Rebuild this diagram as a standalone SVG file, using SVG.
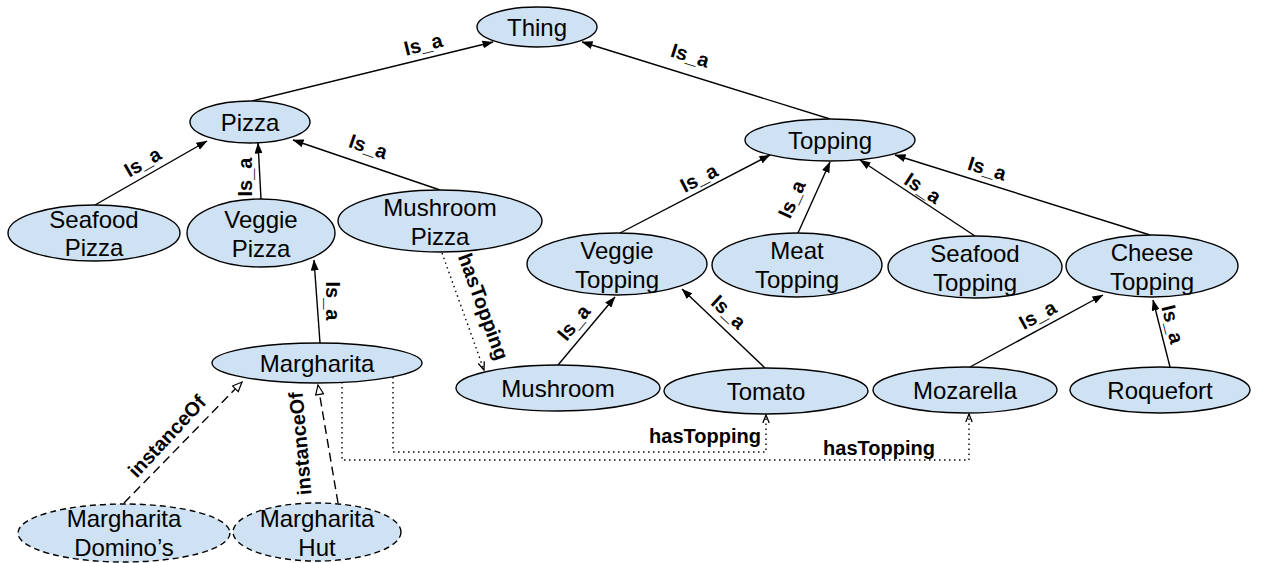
<svg xmlns="http://www.w3.org/2000/svg" width="1266" height="563" viewBox="0 0 1266 563">
  <style>
    .node ellipse { fill: #cfe2f3; stroke: #000; stroke-width: 1.4; }
    .node.inst ellipse { stroke-dasharray: 6 4; }
    .node text { font-family: "Liberation Sans", Arial, sans-serif; font-size: 24px; fill: #000; text-anchor: middle; }
    .edge { fill: none; stroke: #000; stroke-width: 1.4; }
    .isa { marker-end: url(#arrow); }
    .inst-edge { stroke-dasharray: 9 5; marker-end: url(#hollow); }
    .dot-edge { stroke-dasharray: 1.5 3.5; marker-end: url(#open); }
    .lbl { font-family: "Liberation Sans", Arial, sans-serif; font-size: 20px; font-weight: bold; fill: #000; text-anchor: middle; }
  </style>
  <defs>
    <marker id="arrow" markerUnits="userSpaceOnUse" viewBox="0 0 11 8" refX="10.5" refY="4" markerWidth="11" markerHeight="8" orient="auto">
      <path d="M0,0 L11,4 L0,8 z" fill="#000"/>
    </marker>
    <marker id="hollow" markerUnits="userSpaceOnUse" viewBox="0 0 12 10" refX="10.5" refY="5" markerWidth="12" markerHeight="10" orient="auto">
      <path d="M1,1 L10.5,5 L1,9 z" fill="#fff" stroke="#000" stroke-width="1.2"/>
    </marker>
    <marker id="open" markerUnits="userSpaceOnUse" viewBox="0 0 10 8" refX="9" refY="4" markerWidth="10" markerHeight="8" orient="auto">
      <path d="M1,0.8 L9,4 L1,7.2" fill="none" stroke="#000" stroke-width="1.3"/>
    </marker>
  </defs>

  <!-- connectors -->
  <g id="connectors">
    <line class="edge isa" x1="252" y1="101" x2="493" y2="42"/>
    <line class="edge isa" x1="830" y1="119" x2="582" y2="42"/>
    <line class="edge isa" x1="95" y1="205" x2="207" y2="141"/>
    <line class="edge isa" x1="261" y1="199" x2="258" y2="143"/>
    <line class="edge isa" x1="440" y1="190" x2="293" y2="140"/>
    <line class="edge isa" x1="320" y1="343" x2="314" y2="260"/>
    <line class="edge isa" x1="620" y1="233" x2="770" y2="155"/>
    <line class="edge isa" x1="798" y1="233" x2="830" y2="162"/>
    <line class="edge isa" x1="975" y1="236" x2="860" y2="160"/>
    <line class="edge isa" x1="1150" y1="235" x2="895" y2="155"/>
    <line class="edge isa" x1="558" y1="365" x2="615" y2="297"/>
    <line class="edge isa" x1="765" y1="368" x2="682" y2="289"/>
    <line class="edge isa" x1="970" y1="367" x2="1103" y2="295"/>
    <line class="edge isa" x1="1170" y1="367" x2="1153" y2="300"/>
    <line class="edge inst-edge" x1="124" y1="503" x2="242" y2="382"/>
    <line class="edge inst-edge" x1="338" y1="503" x2="318" y2="385"/>
    <line class="edge dot-edge" x1="442" y1="253" x2="484" y2="370"/>
    <path class="edge dot-edge" d="M393,377 V452 H766 V415"/>
    <path class="edge dot-edge" d="M342,382 V460 H969 V414"/>

    <text class="lbl" transform="translate(425,51) rotate(-14)">Is_a</text>
    <text class="lbl" transform="translate(688,62) rotate(17.5)">Is_a</text>
    <text class="lbl" transform="translate(146,168) rotate(-30)">Is_a</text>
    <text class="lbl" transform="translate(252,177) rotate(-90)">Is_a</text>
    <text class="lbl" transform="translate(366,153) rotate(19)">Is_a</text>
    <text class="lbl" transform="translate(326,301) rotate(90)">Is_a</text>
    <text class="lbl" transform="translate(702,184) rotate(-27.5)">Is_a</text>
    <text class="lbl" transform="translate(798,202) rotate(-65.7)">Is_a</text>
    <text class="lbl" transform="translate(919,194) rotate(33.5)">Is_a</text>
    <text class="lbl" transform="translate(985,175) rotate(17.4)">Is_a</text>
    <text class="lbl" transform="translate(579,327) rotate(-50)">Is_a</text>
    <text class="lbl" transform="translate(724,317) rotate(43)">Is_a</text>
    <text class="lbl" transform="translate(1041,321) rotate(-28.4)">Is_a</text>
    <text class="lbl" transform="translate(1166,326) rotate(76)">Is_a</text>
    <text class="lbl" transform="translate(172,441) rotate(-47)">instanceOf</text>
    <text class="lbl" transform="translate(307,443) rotate(-95)">instanceOf</text>
    <text class="lbl" transform="translate(477,309) rotate(70)">hasTopping</text>
    <text class="lbl" x="705" y="443">hasTopping</text>
    <text class="lbl" x="879" y="455">hasTopping</text>
  </g>

  <!-- classes -->
  <g id="thing" class="node"><ellipse cx="537" cy="27" rx="60" ry="20"/><text x="537" y="35.5">Thing</text></g>
  <g id="pizza" class="node"><ellipse cx="250" cy="122" rx="60" ry="21"/><text x="250" y="130.5">Pizza</text></g>
  <g id="topping" class="node"><ellipse cx="830" cy="140" rx="85" ry="21"/><text x="830" y="148.5">Topping</text></g>
  <g id="seafood-pizza" class="node"><ellipse cx="94" cy="233" rx="86" ry="28"/><text x="94" y="228">Seafood</text><text x="94" y="256">Pizza</text></g>
  <g id="veggie-pizza" class="node"><ellipse cx="261" cy="233" rx="74" ry="34"/><text x="261" y="228">Veggie</text><text x="261" y="257">Pizza</text></g>
  <g id="mushroom-pizza" class="node"><ellipse cx="440" cy="221" rx="102" ry="31"/><text x="440" y="216">Mushroom</text><text x="440" y="245">Pizza</text></g>
  <g id="veggie-topping" class="node"><ellipse cx="617" cy="264" rx="90" ry="31"/><text x="617" y="259">Veggie</text><text x="617" y="288">Topping</text></g>
  <g id="meat-topping" class="node"><ellipse cx="797" cy="265" rx="85" ry="32"/><text x="797" y="259">Meat</text><text x="797" y="288">Topping</text></g>
  <g id="seafood-topping" class="node"><ellipse cx="975" cy="267" rx="87" ry="31"/><text x="975" y="262">Seafood</text><text x="975" y="291">Topping</text></g>
  <g id="cheese-topping" class="node"><ellipse cx="1152" cy="266" rx="86" ry="31"/><text x="1152" y="261">Cheese</text><text x="1152" y="290">Topping</text></g>
  <g id="margharita" class="node"><ellipse cx="317" cy="363" rx="105" ry="20"/><text x="317" y="371.5">Margharita</text></g>
  <g id="mushroom" class="node"><ellipse cx="558" cy="388" rx="102" ry="23"/><text x="558" y="396.5">Mushroom</text></g>
  <g id="tomato" class="node"><ellipse cx="766" cy="391" rx="102" ry="23"/><text x="766" y="399.5">Tomato</text></g>
  <g id="mozarella" class="node"><ellipse cx="965" cy="390" rx="92" ry="23"/><text x="965" y="398.5">Mozarella</text></g>
  <g id="roquefort" class="node"><ellipse cx="1160" cy="390" rx="90" ry="23"/><text x="1160" y="398.5">Roquefort</text></g>

  <!-- individuals -->
  <g id="margharita-dominos" class="node inst"><ellipse cx="124" cy="533" rx="106" ry="29"/><text x="124" y="527">Margharita</text><text x="124" y="556">Domino’s</text></g>
  <g id="margharita-hut" class="node inst"><ellipse cx="317" cy="532" rx="84" ry="29"/><text x="317" y="527">Margharita</text><text x="317" y="556">Hut</text></g>
</svg>
